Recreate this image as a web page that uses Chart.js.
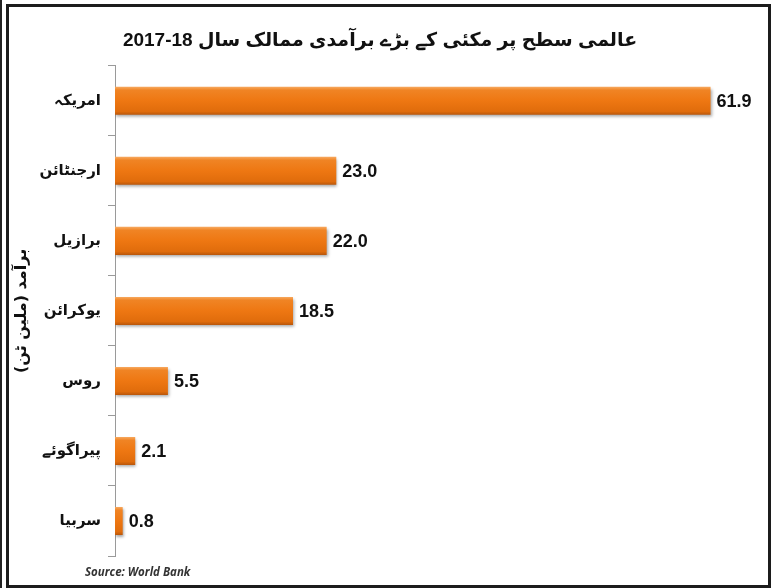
<!DOCTYPE html>
<html>
<head>
<meta charset="utf-8">
<script src="https://cdn.jsdelivr.net/npm/chart.js@4"></script>
<style>
  html, body { margin: 0; padding: 0; background: #fff; }
  #wrap { position: relative; width: 780px; height: 588px; overflow: hidden; }
  #c { position: absolute; left: 0; top: 0; }
  #frame { position: absolute; left: 6px; top: 4px; width: 765px; height: 584px;
           box-sizing: border-box; border: 3px solid #1c1c1c; pointer-events: none; }
  #edge { position: absolute; left: 0; top: 0; width: 2px; height: 588px; background: #222; }
  #source { position: absolute; left: 85px; top: 564px; font-family: "Open Sans", sans-serif;
            font-size: 11.5px; font-weight: bold; font-style: italic; color: #333; }
</style>
</head>
<body>
<div id="wrap">
  <canvas id="c" width="780" height="588"></canvas>
  <div id="edge"></div>
  <div id="frame"></div>
  <div id="source">Source: World Bank</div>
</div>
<script>
// data
var countries = ["امریکہ", "ارجنٹائن", "برازیل", "یوکرائن", "روس", "پیراگوئے", "سربیا"];
var exportValues = [61.9, 23.0, 22.0, 18.5, 5.5, 2.1, 0.8];
var valueLabels = ["61.9", "23.0", "22.0", "18.5", "5.5", "2.1", "0.8"];

var chartTitle = "عالمی سطح پر مکئی کے بڑے برآمدی ممالک سال 18-2017";
var axisTitle = "برآمد (ملین ٹن)";

// bar fill with a light top edge and darker bottom, like the original
function barFill(context) {
  var chart = context.chart;
  var y = chart.scales && chart.scales.y;
  if (!y || context.dataIndex === undefined) return "#EE7712";
  var c = y.getPixelForValue(context.dataIndex);
  var half = Math.abs(y.getPixelForValue(1) - y.getPixelForValue(0)) * 0.2;
  if (!isFinite(c) || !isFinite(half) || half <= 0) return "#EE7712";
  var g = chart.ctx.createLinearGradient(0, c - half, 0, c + half);
  g.addColorStop(0, "#F7A960");
  g.addColorStop(0.12, "#F08424");
  g.addColorStop(0.5, "#EE7712");
  g.addColorStop(0.88, "#E06C0C");
  g.addColorStop(1, "#B9560A");
  return g;
}

var barShadow = {
  id: "barShadow",
  beforeDatasetsDraw: function (chart) {
    var ctx = chart.ctx;
    ctx.save();
    ctx.shadowColor = "rgba(0,0,0,0.35)";
    ctx.shadowBlur = 3;
    ctx.shadowOffsetX = 1;
    ctx.shadowOffsetY = 2;
  },
  afterDatasetsDraw: function (chart) {
    chart.ctx.restore();
  }
};

var valueText = {
  id: "valueText",
  afterDatasetsDraw: function (chart) {
    var ctx = chart.ctx;
    var meta = chart.getDatasetMeta(0);
    ctx.save();
    ctx.font = "bold 18px 'Liberation Sans', Arial, sans-serif";
    ctx.fillStyle = "#111";
    ctx.textAlign = "left";
    ctx.textBaseline = "middle";
    meta.data.forEach(function (bar, i) {
      ctx.fillText(valueLabels[i], bar.x + 6, bar.y + 1);
    });
    ctx.restore();
  }
};

var ctx = document.getElementById("c").getContext("2d");
var chart = new Chart(ctx, {
  type: "bar",
  data: {
    labels: countries,
    datasets: [{
      data: exportValues,
      backgroundColor: barFill,
      borderWidth: 0,
      barPercentage: 0.4,
      categoryPercentage: 1.0
    }]
  },
  options: {
    indexAxis: "y",
    responsive: false,
    animation: false,
    layout: { padding: { left: 10, right: 30, top: 0, bottom: 32 } },
    plugins: {
      legend: { display: false },
      tooltip: { enabled: false },
      title: {
        display: true,
        text: chartTitle,
        color: "#111",
        font: { family: "'Liberation Sans', 'DejaVu Sans', sans-serif", size: 19, weight: "bold" },
        padding: { top: 29, bottom: 14 }
      }
    },
    scales: {
      x: {
        display: false,
        min: 0,
        max: 66
      },
      y: {
        afterFit: function (s) { s.width = 105; },
        grid: {
          drawOnChartArea: false,
          drawTicks: true,
          tickLength: 7,
          color: "#9a9a9a",
          offset: true
        },
        border: { color: "#9a9a9a", width: 1 },
        ticks: {
          color: "#111",
          padding: 7,
          font: { family: "'DejaVu Sans', sans-serif", size: 15, weight: "bold" }
        },
        title: {
          display: true,
          text: axisTitle,
          color: "#111",
          padding: { top: 2, bottom: 0 },
          font: { family: "'DejaVu Sans', sans-serif", size: 16, weight: "bold" }
        }
      }
    }
  },
  plugins: [barShadow, valueText]
});
</script>
</body>
</html>
